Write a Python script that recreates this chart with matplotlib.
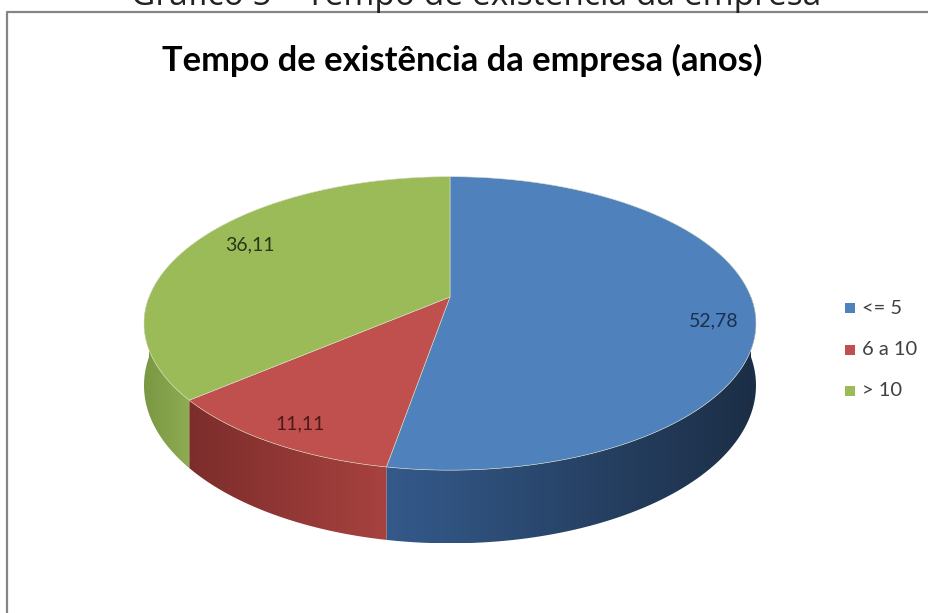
import numpy as np
import matplotlib.pyplot as plt
from matplotlib.patches import Polygon, Rectangle
from matplotlib.colors import LinearSegmentedColormap

# faixas de tempo de existência (anos) e percentual de empresas
categories = ['<= 5', '6 a 10', '> 10']
values = [52.78, 11.11, 36.11]
value_labels = [f'{v:.2f}'.replace('.', ',') for v in values]

top_colors = ['#4F81BD', '#C0504D', '#9BBB59']
side_colors = [('#345A8B', '#1C2E46'), ('#7C2D2B', '#A7423F'), ('#7A9744', '#8EAC51')]
label_colors = ['#1B2F4F', '#4F1917', '#2A3618']
# posição dos rótulos no disco (x, y), antes da projeção
label_disc = [(0.85, -0.16), (-0.43, -0.77), (-0.71, 0.39)]

W, H = 929, 613
fig = plt.figure(figsize=(W / 100, H / 100), dpi=100)
ax = fig.add_axes([0, 0, 1, 1])
ax.set_xlim(0, W)
ax.set_ylim(H, 0)
ax.axis('off')


def fit_text(txt, width):
    """Ajusta o tamanho da fonte para o texto ocupar a largura dada (px)."""
    fig.canvas.draw()
    w = txt.get_window_extent().width
    txt.set_fontsize(txt.get_fontsize() * width / w)


# moldura do gráfico
ax.plot([7.5, 7.5, W], [H, 12, 12], color='#858585', lw=1.6, solid_capstyle='butt')

caption = ax.text(476, 5, 'Gráfico 5 – Tempo de existência da empresa', ha='center',
                  va='baseline', fontsize=20, family='Open Sans', color='#222222')
fit_text(caption, 688)

title = ax.text(462, 71, 'Tempo de existência da empresa (anos)', ha='center',
                va='baseline', fontsize=20, family='Lato', fontweight='bold', color='black')
fit_text(title, 600)

# pizza 3D com perspectiva simples: a frente aparece maior que o fundo
cx, cy = 450, 297
a, b = 301, 142
persp = 0.18
depth = 60


def project(X, Y, drop=0.0):
    s = 1.0 / (1.0 + persp * Y)
    return cx + a * X * s, cy - b * Y * s + drop * s


def rim(t, drop=0.0):
    r = np.radians(t)
    return project(np.cos(r), np.sin(r), drop)


angles = 90 - np.concatenate([[0], np.cumsum(values)]) * 360 / sum(values)

# faces laterais (só a metade da frente aparece)
for i in range(len(values)):
    t1, t2 = angles[i + 1], angles[i]
    lo, hi = max(t1, -180), min(t2, 0)
    if lo >= hi:
        continue
    t = np.linspace(lo, hi, 80)
    xs, ys = rim(t)
    xb, yb = rim(t, depth)
    px = np.concatenate([xs, xb[::-1]])
    py = np.concatenate([ys, yb[::-1]])
    poly = Polygon(np.column_stack([px, py]), closed=True, facecolor='none', edgecolor='none')
    ax.add_patch(poly)
    cmap = LinearSegmentedColormap.from_list('s%d' % i, side_colors[i])
    grad = np.linspace(0, 1, 256).reshape(1, -1)
    img = ax.imshow(grad, cmap=cmap, aspect='auto', interpolation='bilinear',
                    extent=[px.min(), px.max(), py.max(), py.min()], zorder=2)
    img.set_clip_path(poly)

# faces do topo
for i in range(len(values)):
    t = np.linspace(angles[i + 1], angles[i], 120)
    xs, ys = rim(t)
    pts = np.column_stack([np.concatenate([[cx], xs]), np.concatenate([[cy], ys])])
    ax.add_patch(Polygon(pts, closed=True, facecolor=top_colors[i],
                         edgecolor='#d9e0c8', lw=0.4, zorder=3))

# rótulos de valor
for i, lab in enumerate(value_labels):
    lx, ly = project(*label_disc[i])
    ax.text(lx, ly, lab, ha='center', va='center', fontsize=14, family='Lato',
            color=label_colors[i], zorder=4)

# legenda
for i, cat in enumerate(categories):
    y = 308 + i * 41.5
    ax.add_patch(Rectangle((845, y - 5), 10, 10, facecolor=top_colors[i], edgecolor='none'))
    ax.text(862, y, cat, ha='left', va='center', fontsize=14.5, family='Lato', color='#404040')

fig.savefig('out.png', dpi=100)
